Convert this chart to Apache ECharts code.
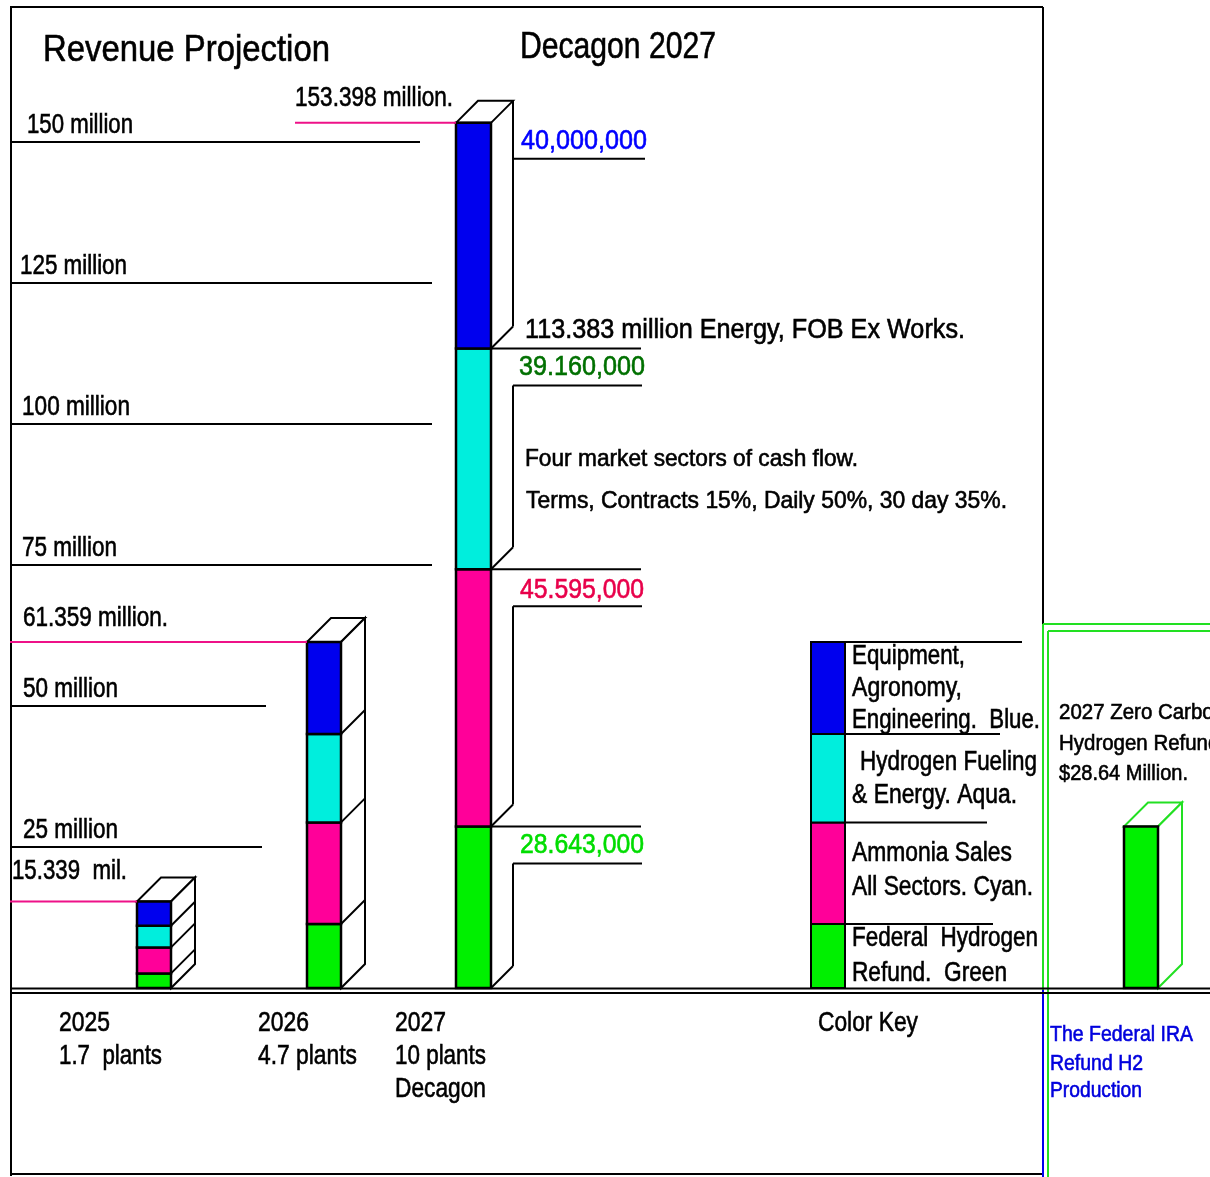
<!DOCTYPE html>
<html><head><meta charset="utf-8">
<script src="https://cdn.jsdelivr.net/npm/echarts@6/dist/echarts.min.js"></script>
<style>html,body{margin:0;padding:0;background:#fff}#c{width:1210px;height:1177px}</style>
</head><body><div id="c"></div>
<script>
// ---------------- DATA ----------------
const years = ['2025', '2026', '2027'];
const plantLabels = ['1.7  plants', '4.7 plants', '10 plants'];
const greenVals = [2.59, 11.35, 28.643];   // Federal Hydrogen Refund
const pinkVals  = [4.61, 18.01, 45.595];   // Ammonia Sales
const aquaVals  = [3.85, 15.68, 39.16];    // Hydrogen Fueling & Energy
const blueVals  = [4.289, 16.319, 40.0];   // Equipment, Agronomy, Engineering
const totalLabels = ['15.339  mil.', '61.359 million.', '153.398 million.'];
const gridValues = [25, 50, 75, 100, 125, 150];
const gridLabels = ['25 million', '50 million', '75 million', '100 million', '125 million', '150 million'];
const segLabels2027 = ['28.643,000', '45.595,000', '39.160,000', '40,000,000'];
const energyLabel = '113.383 million Energy, FOB Ex Works.';
const sectorNotes = ['Four market sectors of cash flow.', 'Terms, Contracts 15%, Daily 50%, 30 day 35%.'];
const keyLabels = ['Equipment,', 'Agronomy,', 'Engineering.  Blue.', 'Hydrogen Fueling', '& Energy. Aqua.',
                   'Ammonia Sales', 'All Sectors. Cyan.', 'Federal  Hydrogen', 'Refund.  Green'];
const refundValue = 28.64;
const refundLabels = ['2027 Zero Carbon', 'Hydrogen Refund', '$28.64 Million.'];
const iraLabels = ['The Federal IRA', 'Refund H2', 'Production'];
const titles = ['Revenue Projection', 'Decagon 2027'];

// ---------------- LAYOUT / STYLE ----------------
const COLORS = ['#00f000', '#ff0099', '#00eedd', '#0000ee']; // green, pink, aqua, blue (bottom->top)
const FONT = '"Liberation Sans", Arial, sans-serif';
const BARS = [{x: 137, w: 34, d: 24}, {x: 307, w: 34, d: 24}, {x: 456, w: 35, d: 22}];
const KEY = {x: 811, w: 34};
const REFUND = {x: 1124, w: 34, d: 24};
const YMAX = 175, Y0 = 988, PX = 5.64;

const chart = echarts.init(document.getElementById('c'), null, {renderer: 'canvas'});

function stacks(i) {
  const v = [greenVals[i], pinkVals[i], aquaVals[i], blueVals[i]];
  const cum = [0]; v.forEach(a => cum.push(cum[cum.length - 1] + a));
  return cum;
}

function barItem(params, api) {
  const i = params.dataIndex;
  const b = BARS[i];
  const cum = stacks(i);
  const ys = cum.map(c => api.coord([0, c])[1]);
  const X = api.coord([b.x, 0])[0], R = api.coord([b.x + b.w, 0])[0], d = b.d;
  const top = ys[4], base = ys[0];
  const ch = [];
  const S = {stroke: '#000', lineWidth: 2};
  ch.push({type: 'polygon', shape: {points: [[X, top], [X + d, top - d], [R + d, top - d], [R, top]]}, style: Object.assign({fill: '#fff'}, S)});
  if (i < 2) {
    ch.push({type: 'polygon', shape: {points: [[R, top], [R + d, top - d], [R + d, base - d], [R, base]]}, style: Object.assign({fill: '#fff'}, S)});
    for (let k = 1; k < 4; k++) ch.push({type: 'line', shape: {x1: R, y1: ys[k], x2: R + d, y2: ys[k] - d}, style: S});
  } else {
    // annotated side face of 2027 bar
    const B = R + d;
    ch.push({type: 'line', shape: {x1: B, y1: top - d, x2: B, y2: ys[3] - d}, style: S});
    ch.push({type: 'line', shape: {x1: B, y1: ys[4] + 36, x2: 645, y2: ys[4] + 36}, style: S});
    for (let k = 3; k >= 1; k--) {
      ch.push({type: 'line', shape: {x1: R, y1: ys[k], x2: B, y2: ys[k] - d}, style: S});
      ch.push({type: 'line', shape: {x1: R, y1: ys[k], x2: 641, y2: ys[k]}, style: S});
      ch.push({type: 'line', shape: {x1: B, y1: ys[k] + 37, x2: 642, y2: ys[k] + 37}, style: S});
      ch.push({type: 'line', shape: {x1: B, y1: ys[k] + 37, x2: B, y2: ys[k - 1] - d}, style: S});
    }
    ch.push({type: 'line', shape: {x1: R, y1: base, x2: B, y2: base - d}, style: S});
  }
  for (let k = 0; k < 4; k++) {
    ch.push({type: 'rect', shape: {x: X, y: ys[k + 1], width: R - X, height: ys[k] - ys[k + 1]},
      style: {fill: COLORS[k], stroke: '#000', lineWidth: 2.5}});
  }
  return {type: 'group', children: ch};
}

function keyItem(params, api) {
  const cum = stacks(1);
  const ys = cum.map(c => api.coord([0, c])[1]);
  const X = api.coord([KEY.x, 0])[0], R = api.coord([KEY.x + KEY.w, 0])[0];
  const ch = [];
  for (let k = 0; k < 4; k++) {
    ch.push({type: 'rect', shape: {x: X, y: ys[k + 1], width: R - X, height: ys[k] - ys[k + 1]},
      style: {fill: COLORS[k], stroke: '#000', lineWidth: 2}});
  }
  const ends = [993, 987, 1000, 1022];
  for (let k = 1; k <= 4; k++) {
    ch.push({type: 'line', shape: {x1: k === 4 ? X : R, y1: ys[k], x2: ends[k - 1], y2: ys[k]}, style: {stroke: '#000', lineWidth: 2}});
  }
  return {type: 'group', children: ch};
}

function refundItem(params, api) {
  const top = api.coord([0, refundValue])[1], base = api.coord([0, 0])[1];
  const X = api.coord([REFUND.x, 0])[0], R = api.coord([REFUND.x + REFUND.w, 0])[0], d = REFUND.d;
  const G = {stroke: '#22e022', lineWidth: 2, fill: '#fff'};
  return {type: 'group', children: [
    {type: 'polygon', shape: {points: [[X, top], [X + d, top - d], [R + d, top - d], [R, top]]}, style: G},
    {type: 'polygon', shape: {points: [[R, top], [R + d, top - d], [R + d, base - d], [R, base]]}, style: G},
    {type: 'rect', shape: {x: X, y: top, width: R - X, height: base - top}, style: {fill: COLORS[0], stroke: '#000', lineWidth: 2.5}}
  ]};
}

chart.setOption({
  animation: false,
  backgroundColor: '#fff',
  grid: {left: 0, top: Y0 - YMAX * PX, width: 1210, height: YMAX * PX, containLabel: false},
  xAxis: {type: 'value', min: 0, max: 1210, show: false},
  yAxis: {type: 'value', min: 0, max: YMAX, show: false},
  series: [
    {type: 'custom', name: 'Revenue', coordinateSystem: 'cartesian2d', data: years.map((y, i) => [i, 0]), renderItem: barItem, z: 5},
    {type: 'custom', name: 'Color Key', coordinateSystem: 'cartesian2d', data: [[0, 0]], renderItem: keyItem, z: 5},
    {type: 'custom', name: 'Refund', coordinateSystem: 'cartesian2d', data: [[0, refundValue]], renderItem: refundItem, z: 5}
  ]
});

// ---------- annotations positioned through the chart's scales ----------
const py = v => chart.convertToPixel({yAxisIndex: 0}, v);
const px = v => chart.convertToPixel({xAxisIndex: 0}, v);
const mctx = document.createElement('canvas').getContext('2d');
function txt(str, left, right, baseline, size, color, scale) {
  mctx.font = size + 'px ' + FONT;
  const w = mctx.measureText(str).width;
  const sx = scale || (right - left) / w;
  const c = color || '#000';
  return {type: 'text', x: left, y: baseline - 0.35 * size, scaleX: sx, silent: true, z: 10,
    style: {text: str, fontSize: size, fontFamily: FONT, fill: c, stroke: c, lineWidth: 0.6,
      align: 'left', verticalAlign: 'middle', textAlign: 'left', textVerticalAlign: 'middle'}};
}
function ln(x1, y1, x2, y2, color, w) {
  return {type: 'line', silent: true, z: 8, shape: {x1, y1, x2, y2}, style: {stroke: color || '#000', lineWidth: w || 2}};
}
const G = [];
// frame
G.push(ln(10, 7, 1043, 7), ln(11, 7, 11, 1176), ln(10, 1174, 1043, 1174), ln(1043, 7, 1043, 624));
G.push(ln(1043, 990, 1043, 1177, '#0000ee', 2));
G.push(ln(1043, 624, 1043, 990, '#22e022', 2), ln(1043, 624, 1210, 624, '#22e022', 2));
G.push(ln(1048, 631, 1048, 1177, '#22e022', 2), ln(1048, 631, 1210, 631, '#22e022', 2));
// baselines
const y0 = py(0);
G.push(ln(10, y0 + 0.5, 1210, y0 + 0.5, '#000', 2), ln(10, y0 + 5, 1210, y0 + 5, '#000', 2));
// titles
G.push(txt(titles[0], 43, 330, 64, 37));
G.push(txt(titles[1], 520, 716, 61, 37));
// gridlines
const gridEnd = [262, 266, 432, 432, 432, 420];
const gridLeft = [23, 23, 22, 22, 20, 27];
const gridRight = [118, 118, 117, 130, 127, 133];
gridValues.forEach((v, k) => {
  const y = py(v);
  G.push(ln(10, y, gridEnd[k], y));
  G.push(txt(gridLabels[k], gridLeft[k], gridRight[k], y - 7.5, 27));
});
// totals (pink leaders)
const totLeft = [12, 23, 295], totRight = [127, 168, 453], totOff = [20, 14, 15], totStart = [10, 10, 295];
years.forEach((yr, i) => {
  const y = py(stacks(i)[4]);
  G.push(ln(totStart[i], y, px(BARS[i].x), y, '#ee1188', 2));
  G.push(txt(totalLabels[i], totLeft[i], totRight[i], y - totOff[i], 27));
});
// 2027 segment labels
const c27 = stacks(2);
const segCol = ['#00dd00', '#e8004a', '#007000', '#0000ff'];
const segOff = [29, 31, 29, 28];
const segLeft = [520, 520, 519, 521], segRight = [644, 644, 645, 647];
for (let k = 0; k < 4; k++) {
  G.push(txt(segLabels2027[k], segLeft[k], segRight[k], py(c27[k + 1]) + segOff[k], 28, segCol[k]));
}
G.push(txt(energyLabel, 525, 965, py(c27[3]) - 8, 27));
G.push(txt(sectorNotes[0], 525, 858, 468, 24));
G.push(txt(sectorNotes[1], 526, 1007, 510, 24));
// color key labels
const keyPos = [[852, 965, 666], [852, 962, 698], [852, 1040, 730], [860, 1037, 772], [852, 1017, 805],
                [852, 1012, 863], [852, 1033, 897], [852, 1038, 948], [852, 1007, 983]];
keyLabels.forEach((s, k) => G.push(txt(s, keyPos[k][0], keyPos[k][1], keyPos[k][2], 27)));
// refund panel
G.push(txt(refundLabels[0], 1059, 0, 721, 22, '#000', 0.93));
G.push(txt(refundLabels[1], 1059, 0, 752, 22, '#000', 0.93));
G.push(txt(refundLabels[2], 1059, 1188, 782, 22));
const iraPos = [[1050, 1193, 1043], [1050, 1143, 1072], [1050, 1142, 1099]];
iraLabels.forEach((s, k) => G.push(txt(s, iraPos[k][0], iraPos[k][1], iraPos[k][2], 22, '#0000dd')));
// x category labels
const yrLeft = [59, 258, 395];
years.forEach((yr, i) => {
  G.push(txt(yr, yrLeft[i], yrLeft[i] + 51, 1033, 28));
  const pr = [162, 357, 486][i];
  G.push(txt(plantLabels[i], yrLeft[i], pr, 1066, 28));
});
G.push(txt('Decagon', 395, 486, 1099, 28));
G.push(txt('Color Key', 818, 918, 1033, 28));

chart.setOption({graphic: {elements: G}});
</script>
</body></html>
